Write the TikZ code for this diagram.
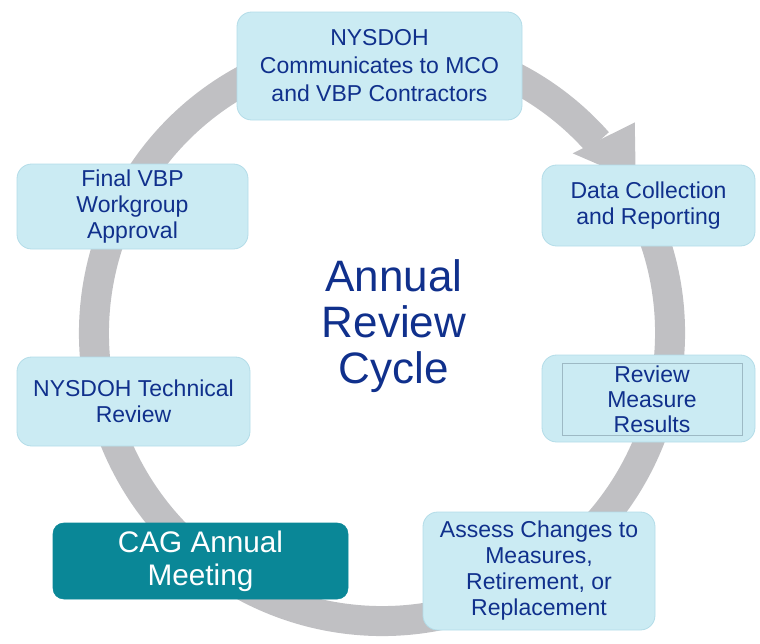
\documentclass[tikz,border=0pt]{standalone}
\usepackage{fontspec}
\setmainfont{Liberation Sans}
\usetikzlibrary{calc}
\definecolor{boxfill}{HTML}{CBEBF3}
\definecolor{boxedge}{HTML}{B3DCE8}
\definecolor{navy}{HTML}{10308C}
\definecolor{ringgray}{HTML}{C0C0C3}
\definecolor{tealbox}{HTML}{0A8797}
\definecolor{inneredge}{HTML}{9DB9C4}
\begin{document}
\begin{tikzpicture}[x=0.75pt,y=-0.75pt,
  stepbox/.style={rounded corners=11pt, fill=boxfill, draw=boxedge, line width=0.6pt,
    text=navy, align=center, font=\fontsize{17.25}{19.5}\selectfont, inner sep=0pt},
  cagbox/.style={rounded corners=8pt, fill=tealbox, draw=tealbox, text=white,
    align=center, font=\fontsize{22.3}{24.75}\selectfont, inner sep=0pt},
  innerbox/.style={draw=inneredge, line width=0.5pt, inner sep=0pt},
  titletext/.style={text=navy, align=center, font=\fontsize{33}{34.5}\selectfont, inner sep=0pt},
  ringline/.style={draw=ringgray, line width=22.5pt},
  ringhead/.style={fill=ringgray}
  ]
\useasboundingbox (0,0) rectangle (760,643);
\coordinate (C) at (382,333);
\path[ringline] ($(C)+(28:216pt)$) arc[start angle=28, end angle=-318.5, radius=216pt];
\path[ringhead] ($(C)+(43.3:196.5pt)$) -- ($(C)+(31:222pt)$) -- ($(C)+(39.8:246.75pt)$) -- cycle;

\node[stepbox, minimum width=213.75pt, minimum height=81pt,
  font=\fontsize{17.25}{21}\selectfont] (top) at (379.5,66)
  {NYSDOH\\Communicates to MCO\\and VBP Contractors};
\node[stepbox, minimum width=159.75pt, minimum height=60.75pt] (data) at (648.5,205.5)
  {Data Collection\\and Reporting};
\node[stepbox, minimum width=159.75pt, minimum height=65.25pt] (review) at (648.5,398.5) {};
\node[innerbox, minimum width=135pt, minimum height=54pt, text=navy, align=center,
  font=\fontsize{17.25}{18.75}\selectfont] (reviewin) at (652,399)
  {Review\\Measure\\Results};
\node[stepbox, minimum width=174pt, minimum height=88.5pt] (assess) at (539,571)
  {Assess Changes to\\Measures,\\Retirement, or\\Replacement};
\node[cagbox, minimum width=221.25pt, minimum height=57pt] (cag) at (200.5,561)
  {CAG Annual\\Meeting};
\node[stepbox, minimum width=174.75pt, minimum height=66.75pt] (tech) at (133.5,401.5)
  {NYSDOH Technical\\Review};
\node[stepbox, minimum width=173.25pt, minimum height=63.75pt] (final) at (132.5,206.5)
  {Final VBP\\Workgroup\\Approval};
\node[titletext] (title) at (394,326) {Annual\\Review\\Cycle};
\end{tikzpicture}
\end{document}
